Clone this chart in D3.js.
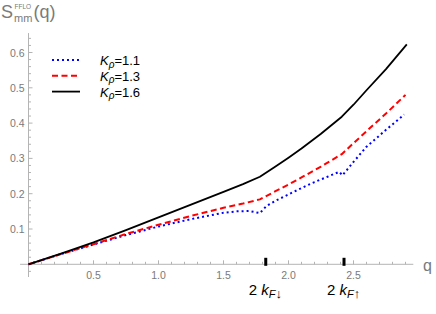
<!DOCTYPE html>
<html lang="en">
<head>
    <meta charset="UTF-8">
    <title>S_mm FFLO</title>
    <script src="https://d3js.org/d3.v7.min.js"></script>
    <style>
        body { margin: 0; background: #fff; }
        text { font-family: "Liberation Sans", Arial, sans-serif; }
    </style>
</head>
<body>
<div id="chart"></div>
<script>
    // values
    const qK11 = [0, 0.25, 0.5, 0.75, 1.0, 1.25, 1.5, 1.6, 1.7, 1.78, 1.83, 1.9, 2.0, 2.1, 2.2, 2.3, 2.39, 2.415, 2.5, 2.6, 2.75, 2.89];
    const sK11 = [0, 0.029, 0.056, 0.083, 0.107, 0.128, 0.146, 0.150, 0.151, 0.145, 0.165, 0.180, 0.198, 0.216, 0.233, 0.248, 0.262, 0.252, 0.290, 0.333, 0.381, 0.424];

    const qK13 = [0, 0.25, 0.5, 0.75, 1.0, 1.25, 1.5, 1.65, 1.78, 1.9, 2.0, 2.1, 2.25, 2.41, 2.5, 2.6, 2.75, 2.9];
    const sK13 = [0, 0.029, 0.057, 0.086, 0.112, 0.137, 0.160, 0.172, 0.184, 0.207, 0.226, 0.246, 0.277, 0.312, 0.343, 0.377, 0.427, 0.480];

    const qK16 = [0, 0.25, 0.5, 0.75, 1.0, 1.25, 1.5, 1.65, 1.78, 1.9, 2.0, 2.1, 2.25, 2.41, 2.5, 2.6, 2.75, 2.91];
    const sK16 = [0, 0.030, 0.062, 0.097, 0.133, 0.169, 0.205, 0.227, 0.248, 0.277, 0.302, 0.328, 0.370, 0.418, 0.452, 0.493, 0.553, 0.623];

    const kpLabels = ["1.1", "1.3", "1.6"];
    const xTicks = [0.5, 1.0, 1.5, 2.0, 2.5];
    const yTicks = [0.1, 0.2, 0.3, 0.4, 0.5, 0.6];
    const fermiQ = [1.825, 2.427];
    const fermiArrows = ["\u2193", "\u2191"];

    const width = 436, height = 314;

    const svg = d3.select("#chart").append("svg")
        .attr("width", width)
        .attr("height", height);

    const x = d3.scaleLinear().domain([0, 3]).range([28.5, 418.5]);
    const y = d3.scaleLinear().domain([0, 0.6]).range([264.3, 52.5]);

    const axisColor = "#b4b4b4";
    const labelColor = "#7a7a7a";

    // axes lines
    svg.append("line")
        .attr("x1", x(-0.065)).attr("x2", x(2.96))
        .attr("y1", y(0)).attr("y2", y(0))
        .attr("stroke", axisColor).attr("stroke-width", 1);
    svg.append("line")
        .attr("x1", x(0)).attr("x2", x(0))
        .attr("y1", y(-0.036)).attr("y2", y(0.655))
        .attr("stroke", axisColor).attr("stroke-width", 1);

    // x ticks: minor every 0.1, major every 0.5
    const xMinor = d3.range(1, 30).map(i => i / 10);
    svg.append("g").selectAll("line")
        .data(xMinor)
        .enter().append("line")
        .attr("x1", d => x(d)).attr("x2", d => x(d))
        .attr("y1", d => y(0) - (Math.abs(d * 2 - Math.round(d * 2)) < 1e-6 ? 4 : 2.5))
        .attr("y2", y(0))
        .attr("stroke", axisColor).attr("stroke-width", 1);

    svg.append("g").selectAll("text")
        .data(xTicks)
        .enter().append("text")
        .attr("x", d => x(d))
        .attr("y", y(0) + 15)
        .attr("text-anchor", "middle")
        .attr("font-size", 10.5)
        .attr("fill", labelColor)
        .text(d => d.toFixed(1));

    // y ticks: minor every 0.02
    const yMinor = d3.range(-1, 33).map(i => i / 50);
    svg.append("g").selectAll("line")
        .data(yMinor)
        .enter().append("line")
        .attr("x1", x(0))
        .attr("x2", d => x(0) + (Math.abs(d * 10 - Math.round(d * 10)) < 1e-6 ? 4 : 2.5))
        .attr("y1", d => y(d)).attr("y2", d => y(d))
        .attr("stroke", axisColor).attr("stroke-width", 1);

    svg.append("g").selectAll("text")
        .data(yTicks)
        .enter().append("text")
        .attr("x", x(0) - 4)
        .attr("y", d => y(d) + 4)
        .attr("text-anchor", "end")
        .attr("font-size", 10.5)
        .attr("fill", labelColor)
        .text(d => d.toFixed(1));

    // special ticks at 2k_F
    svg.append("g").selectAll("rect")
        .data(fermiQ)
        .enter().append("rect")
        .attr("x", d => x(d) - 1.5)
        .attr("y", y(0) - 6.5)
        .attr("width", 3)
        .attr("height", 8)
        .attr("fill", "#000");

    const fermiLabels = svg.append("g").selectAll("text")
        .data(fermiQ)
        .enter().append("text")
        .attr("x", d => x(d) - 17)
        .attr("y", 295)
        .attr("font-size", 15)
        .attr("fill", "#000");
    fermiLabels.append("tspan").text("2 ");
    fermiLabels.append("tspan").attr("font-style", "italic").text("k");
    fermiLabels.append("tspan").attr("font-style", "italic").attr("font-size", 11).attr("dy", 3).text("F");
    fermiLabels.append("tspan").attr("font-size", 13).text((d, i) => fermiArrows[i]);

    // axis labels
    svg.append("text")
        .attr("x", 423).attr("y", 271)
        .attr("font-size", 16)
        .attr("fill", labelColor)
        .text("q");

    const title = svg.append("text")
        .attr("x", 1).attr("y", 18)
        .attr("fill", labelColor);
    title.append("tspan").attr("font-size", 18).text("S");
    title.append("tspan").attr("font-size", 11).attr("x", 14).attr("y", 21.5).text("mm");
    title.append("tspan").attr("font-size", 6.5).attr("x", 14.5).attr("y", 9).text("FFLO");
    title.append("tspan").attr("font-size", 18).attr("x", 33.5).attr("y", 18).text("(q)");

    // curves
    const series = [
        { q: qK11, s: sK11, color: "#0000ff", dash: "2,3", width: 2 },
        { q: qK13, s: sK13, color: "#ff0000", dash: "6,3.5", width: 2 },
        { q: qK16, s: sK16, color: "#000000", dash: null, width: 1.8 }
    ];

    const line = d3.line()
        .x(d => x(d[0]))
        .y(d => y(d[1]));

    svg.append("g").selectAll("path")
        .data(series)
        .enter().append("path")
        .attr("d", d => line(d.q.map((v, i) => [v, d.s[i]])))
        .attr("fill", "none")
        .attr("stroke", d => d.color)
        .attr("stroke-width", d => d.width)
        .attr("stroke-dasharray", d => d.dash)
        .attr("stroke-linejoin", "round");

    // legend
    const legend = svg.append("g").selectAll("g")
        .data(series)
        .enter().append("g")
        .attr("transform", (d, i) => `translate(0, ${60 + i * 15.8})`);

    legend.append("line")
        .attr("x1", 52).attr("x2", 80)
        .attr("y1", 0).attr("y2", 0)
        .attr("stroke", d => d.color)
        .attr("stroke-width", d => d.width)
        .attr("stroke-dasharray", d => d.dash);

    const legendText = legend.append("text")
        .attr("x", 100).attr("y", 5)
        .attr("font-size", 13)
        .attr("fill", "#000");
    legendText.append("tspan").attr("font-style", "italic").text("K");
    legendText.append("tspan").attr("font-style", "italic").attr("font-size", 10).attr("dy", 2.5).text("\u03c1");
    legendText.append("tspan").attr("dy", -2.5).text((d, i) => "=" + kpLabels[i]);
</script>
</body>
</html>
